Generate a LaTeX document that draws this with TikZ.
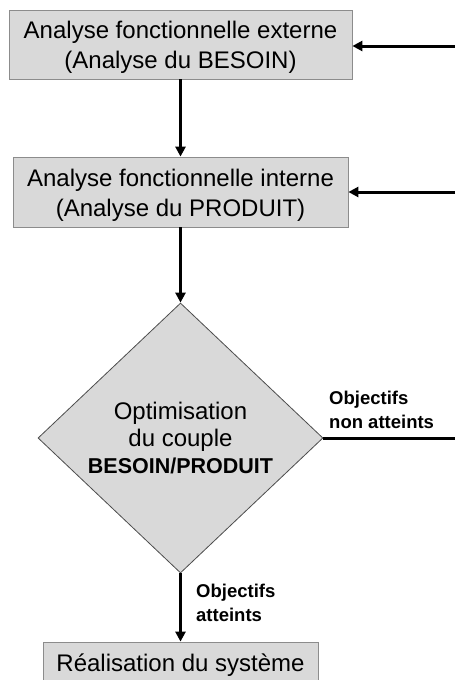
\documentclass[tikz,border=0pt]{standalone}
\usepackage{fontspec}
\setmainfont{Liberation Sans}
\usetikzlibrary{shapes.geometric,arrows.meta}
\definecolor{boxfill}{HTML}{D9D9D9}
\definecolor{boxline}{HTML}{8C8C8C}
\newcommand{\lowertext}[2]{\raisebox{-#1}[\height][\depth]{#2}}
\tikzset{
  procbox/.style={draw=boxline, line width=0.8pt, fill=boxfill, inner sep=0pt,
    font=\fontsize{24}{30}\selectfont},
  decision/.style={diamond, draw=black!70, line width=0.8pt, fill=boxfill, inner sep=0pt,
    font=\fontsize{24}{26.7}\selectfont},
  flow/.style={line width=3pt, -{Triangle[length=10pt,width=10pt]}},
  plain/.style={line width=3pt},
  lbl/.style={font=\fontsize{18.5}{23.3}\selectfont\bfseries, align=left, inner sep=0pt, anchor=west}
}
\begin{document}
\begin{tikzpicture}[x=1pt,y=-1pt]
\path[use as bounding box] (0,0) rectangle (455,680);
\clip (0,0) rectangle (455,680);
\node[procbox, minimum width=343pt, minimum height=69pt] (b1) at (180.5,44.5)
  {\lowertext{3pt}{\begin{tabular}{@{}c@{}}Analyse fonctionnelle externe\\(Analyse du BESOIN)\end{tabular}}};
\node[procbox, minimum width=335pt, minimum height=70pt] (b2) at (180.5,192)
  {\lowertext{3pt}{\begin{tabular}{@{}c@{}}Analyse fonctionnelle interne\\(Analyse du PRODUIT)\end{tabular}}};
\node[decision, minimum width=285pt, minimum height=270pt] (d) at (180.5,438)
  {\lowertext{3.3pt}{\begin{tabular}{@{}c@{}}Optimisation\\du couple\\{\fontsize{21.5}{26.7}\selectfont\bfseries BESOIN/PRODUIT}\end{tabular}}};
\node[procbox, minimum width=275pt, minimum height=46pt] (b3) at (180.5,665)
  {Réalisation du système};
\coordinate (r1) at (455,46);
\coordinate (r2) at (455,192);
\coordinate (r3) at (455,438);
\draw[flow] (r1) -- (b1.east |- r1);
\draw[flow] (r2) -- (b2.east |- r2);
\draw[plain] (d.east) -- (r3);
\draw[flow] (b1.south) -- (b2.north);
\draw[flow] (b2.south) -- (d.north);
\draw[flow] (d.south) -- (b3.north);
\node[lbl] (l1) at (329,410) {Objectifs\\non atteints};
\node[lbl] (l2) at (196,603) {Objectifs\\atteints};
\end{tikzpicture}
\end{document}
